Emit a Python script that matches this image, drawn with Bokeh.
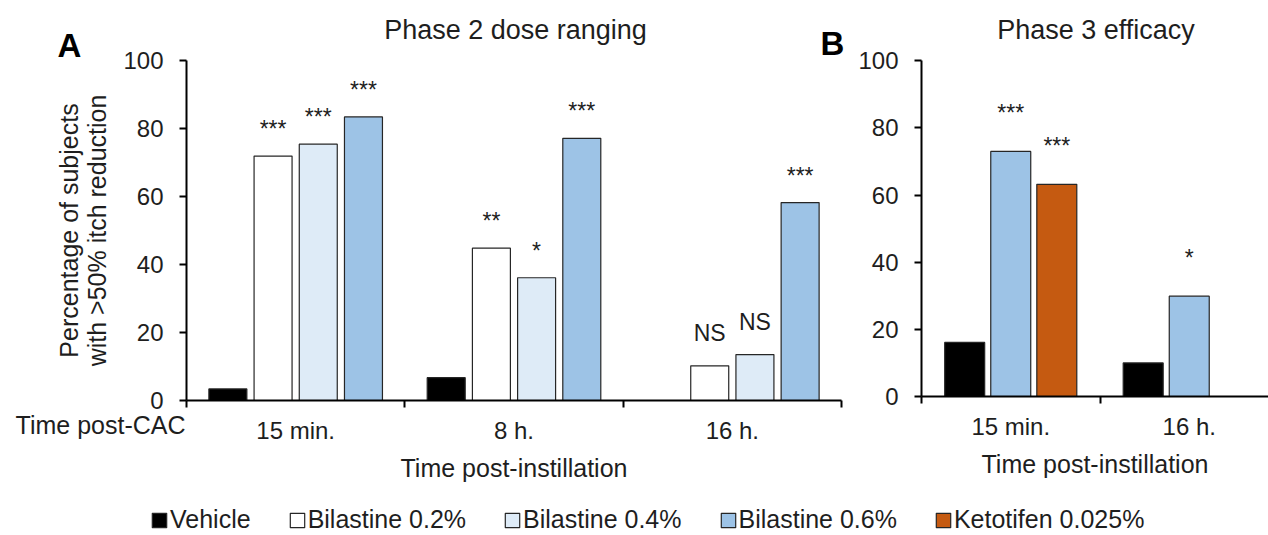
from bokeh.plotting import figure
from bokeh.models import Range1d, FixedTicker, Label, Legend, LegendItem, LinearAxis
from bokeh.embed import file_html
from bokeh.resources import INLINE
from bokeh.core.properties import value

FONT = "Liberation Sans"
TXT = "#1e1e1e"

# ---------------- data ----------------
a_groups = ["15 min.", "8 h.", "16 h."]
a_vehicle = [3.4, 6.7, None]
a_bil02 = [71.9, 44.8, 10.2]
a_bil04 = [75.4, 36.1, 13.5]
a_bil06 = [83.4, 77.1, 58.2]
a_sig_vehicle = [None, None, None]
a_sig_bil02 = ["***", "**", "NS"]
a_sig_bil04 = ["***", "*", "NS"]
a_sig_bil06 = ["***", "***", "***"]

b_groups = ["15 min.", "16 h."]
b_vehicle = [16.1, 10.0]
b_bil06 = [73.0, 29.9]
b_keto = [63.2, None]
b_sig_vehicle = [None, None]
b_sig_bil06 = ["***", "*"]
b_sig_keto = ["***", None]

series_names = ["Vehicle", "Bilastine 0.2%", "Bilastine 0.4%", "Bilastine 0.6%", "Ketotifen 0.025%"]
series_colors = ["#000000", "#FFFFFF", "#DEEBF7", "#9DC3E6", "#C55A11"]
y_ticks = [0, 20, 40, 60, 80, 100]
color_of = dict(zip(series_names, series_colors))

# ---------------- layout (pixels) ----------------
W, H = 1268, 535
A_LEFT, A_RIGHT, A_ZERO, A_TOP = 186, 841, 400, 60
B_LEFT, B_GROUP, B_ZERO, B_TOP = 921, 178.5, 396, 60.3
a_ux = (A_RIGHT - A_LEFT) / len(a_groups)
a_uy = (A_ZERO - A_TOP) / 100
b_uy = (B_ZERO - B_TOP) / 100
b_xmax = (W - B_LEFT) / B_GROUP

p = figure(width=W, height=H, title=None,
           x_range=Range1d(-A_LEFT / a_ux, (W - A_LEFT) / a_ux),
           y_range=Range1d(-(H - A_ZERO) / a_uy, A_ZERO / a_uy),
           x_axis_type=None, y_axis_type=None, toolbar_location=None,
           output_backend="svg", min_border=0)
p.outline_line_color = None
p.extra_x_ranges = {"bx": Range1d(-B_LEFT / B_GROUP, (W - B_LEFT) / B_GROUP)}
p.extra_y_ranges = {"by": Range1d(-(H - B_ZERO) / b_uy, B_ZERO / b_uy)}


def style(ax):
    ax.axis_line_color = "black"
    ax.axis_line_width = 2
    ax.major_tick_line_color = "black"
    ax.major_tick_line_width = 2
    ax.minor_tick_line_color = "black"
    ax.minor_tick_line_width = 2
    ax.major_label_text_font = FONT
    ax.major_label_text_color = TXT
    ax.major_label_text_font_size = "24px"
    ax.axis_label_text_font = FONT
    ax.axis_label_text_color = TXT
    ax.axis_label_text_font_size = "25px"
    ax.axis_label_text_font_style = "normal"


def add_axes(groups, xmax, rx, ry, ylabel=None):
    kw = {}
    if rx:
        kw = dict(x_range_name=rx, y_range_name=ry)
    ya = LinearAxis(fixed_location=0, bounds=(0, 100), ticker=FixedTicker(ticks=y_ticks), **kw)
    style(ya)
    ya.major_tick_out = 7
    ya.major_tick_in = 0
    ya.minor_tick_out = 0
    ya.minor_tick_in = 0
    ya.major_label_standoff = 16
    if ylabel:
        ya.axis_label = ylabel
        ya.axis_label_standoff = 9
        ya.axis_label_text_line_height = 1.0
    p.add_layout(ya, "left")
    centers = [i + 0.5 for i in range(len(groups))]
    bounds_ticks = [i for i in range(len(groups) + 1) if i <= xmax]
    xa = LinearAxis(fixed_location=0, bounds=(0, xmax),
                    ticker=FixedTicker(ticks=centers, minor_ticks=bounds_ticks), **kw)
    style(xa)
    xa.major_label_overrides = {c: g for c, g in zip(centers, groups)}
    xa.major_tick_out = 0
    xa.major_tick_in = 0
    xa.minor_tick_out = 7
    xa.minor_tick_in = 0
    xa.major_label_standoff = 9
    xa.axis_label = "Time post-instillation"
    xa.axis_label_standoff = 7
    p.add_layout(xa, "below")


def add_bars(series, step, width, star_off, ns_off, rx=None, ry=None):
    kw = {}
    if rx:
        kw = dict(x_range_name=rx, y_range_name=ry)
    n = len(series)
    rends = {}
    for i, (name, vals, sigs) in enumerate(series):
        off = 0.5 + (i - (n - 1) / 2) * step
        xs = [g + off for g, v in enumerate(vals) if v is not None]
        tops = [v for v in vals if v is not None]
        rends[name] = p.vbar(x=xs, top=tops, bottom=0, width=width, fill_color=color_of[name],
                             line_color="#262626", line_width=1.2, **kw)
        for kind, yoff in (("star", star_off), ("ns", ns_off)):
            sx, sy, st = [], [], []
            for g, (v, s) in enumerate(zip(vals, sigs)):
                if s is None or v is None:
                    continue
                if (s == "NS") != (kind == "ns"):
                    continue
                sx.append(g + off)
                sy.append(v)
                st.append(s)
            if sx:
                p.text(x=sx, y=sy, text=st, text_align="center", text_baseline="middle",
                       y_offset=yoff, text_font=value(FONT), text_font_size="23px",
                       text_color=TXT, **kw)
    return rends


# ---------------- panel A ----------------
add_axes(a_groups, len(a_groups), None, None,
         ylabel="Percentage of subjects\nwith >50% itch reduction")
rA = add_bars([("Vehicle", a_vehicle, a_sig_vehicle),
               ("Bilastine 0.2%", a_bil02, a_sig_bil02),
               ("Bilastine 0.4%", a_bil04, a_sig_bil04),
               ("Bilastine 0.6%", a_bil06, a_sig_bil06)],
              step=0.207, width=0.174, star_off=-27, ns_off=-33)

# ---------------- panel B ----------------
add_axes(b_groups, b_xmax, "bx", "by")
rB = add_bars([("Vehicle", b_vehicle, b_sig_vehicle),
               ("Bilastine 0.6%", b_bil06, b_sig_bil06),
               ("Ketotifen 0.025%", b_keto, b_sig_keto)],
              step=0.258, width=0.224, star_off=-38, ns_off=-38, rx="bx", ry="by")


# ---------------- free texts ----------------
def label(text, x, y, size, align="left", bold=False, color=TXT):
    p.add_layout(Label(x=x, y=H - y, x_units="screen", y_units="screen", text=text,
                       text_align=align, text_baseline="middle", text_font=FONT,
                       text_font_size=size, text_font_style="bold" if bold else "normal",
                       text_color=color))


label("Phase 2 dose ranging", 515, 29, "27px", align="center")
label("Phase 3 efficacy", 1095.5, 29, "27px", align="center")
label("A", 57, 45, "33px", bold=True, color="black")
label("B", 820, 42.5, "33px", bold=True, color="black")
label("Time post-CAC", 185, 424, "25px", align="right")

# ---------------- legend ----------------
all_r = dict(rA)
all_r["Ketotifen 0.025%"] = rB["Ketotifen 0.025%"]
items = [LegendItem(label=n, renderers=[all_r[n]]) for n in series_names]
leg = Legend(items=items, location=(150, 1), orientation="horizontal",
             glyph_width=18, glyph_height=18, label_standoff=2, spacing=37,
             padding=0, margin=0, border_line_color=None, background_fill_color=None,
             label_text_font=FONT, label_text_font_size="25px", label_text_color=TXT)
p.add_layout(leg, "center")

open("out.html", "w").write(file_html(p, INLINE))
